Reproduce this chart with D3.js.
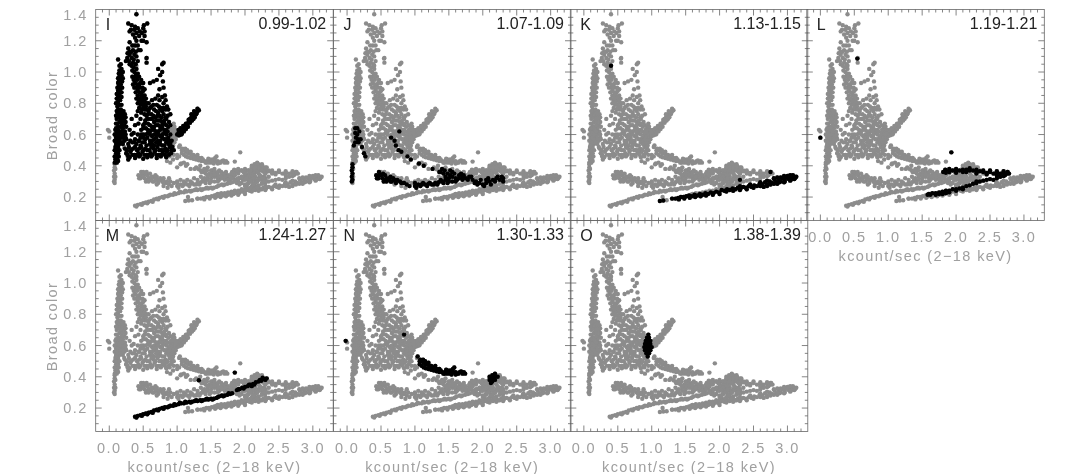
<!DOCTYPE html>
<html>
<head>
<meta charset="utf-8">
<script src="https://cdn.jsdelivr.net/npm/d3@7"></script>
<style>
  html, body { margin: 0; padding: 0; background: #fff; }
  svg { display: block; filter: blur(0.35px); }
  .axis-text { font-family: "Liberation Sans", sans-serif; font-size: 14.5px; fill: #a0a0a0; letter-spacing: 1.4px; }
  .panel-text { font-family: "Liberation Sans", sans-serif; fill: #222; }
</style>
</head>
<body>
<script>
// values: [kcount/sec, broad color], one list per time range
const ptsI = [[.08,.42],[.11,.42],[.09,.44],[.12,.44],[.08,.46],[.11,.46],[.1,.48],[.13,.48],[.08,.5],[.11,.5],[.09,.52],[.13,.52],[.1,.54],[.08,.56],[.12,.56],[.1,.58],[.14,.58],[.09,.6],[.12,.6],[.11,.62],[.15,.62],[.1,.64],[.13,.65],[.12,.67],[.15,.68],[.11,.7],[.14,.71],[.12,.73],[.15,.74],[.13,.76],[.12,.78],[.15,.79],[.13,.81],[.16,.82],[.13,.84],[.15,.86],[.13,.88],[.16,.89],[.14,.91],[.17,.92],[.14,.94],[.17,.95],[.15,.97],[.18,.98],[.16,1],[.15,1.04],[.13,1.08],[.245,1.07],[.29,1.07],
  [.13,.43],[.14,.46],[.15,.5],[.15,.54],[.15,.56],[.17,.58],[.08,.6],[.15,.6],[.17,.6],[.09,.63],[.13,.63],[.17,.65],[.1,.67],[.17,.7],[.1,.72],[.17,.72],[.11,.75],[.17,.76],[.1,.8],[.18,.79],[.11,.83],[.18,.84],[.11,.86],[.18,.87],[.12,.9],[.19,.9],[.13,.93],[.19,.94],[.13,.96],[.2,.96],[.14,.99],[.2,1],[.15,1.01],[.18,1.02],[.17,1.05],
  [.2,.54],[.22,.56],[.19,.58],[.21,.6],[.23,.62],[.2,.64],[.22,.66],[.19,.68],[.22,.7],[.2,.72],[.23,.73],
  [.18,.55],[.24,.58],[.24,.6],[.18,.62],[.25,.65],[.18,.66],[.24,.68],[.17,.7],[.24,.71],[.21,.75],[.19,.74],
  [.28,1.31],[.33,1.3],[.38,1.29],[.3,1.26],[.35,1.24],[.4,1.25],[.45,1.26],[.5,1.28],[.56,1.31],[.51,1.3],[.4,1.37],[.52,1.23],[.475,1.2],[.55,1.19],[.4,1.2],[.3,1.19],[.38,1.17],[.28,1.15],[.35,1.14],[.43,1.14],[.3,1.11],[.4,1.1],[.55,1.09],[.265,1.09],[.33,1.09],[.35,1.06],[.55,1.06],[.33,1.13],[.37,1.11],
  [.32,1.27],[.37,1.27],[.42,1.28],[.44,1.23],[.38,1.22],[.48,1.25],[.52,1.26],[.34,1.17],[.42,1.17],[.3,1.13],[.39,1.13],[.27,1.12],[.36,1.08],[.42,1.07],[.3,1.05],[.33,1.04],[.39,1.05],[.46,1.14],[.5,1.2],
  [.36,1.03],[.4,1.02],[.37,1],[.42,.99],[.38,.97],[.44,.97],[.36,.95],[.41,.95],[.47,.95],[.38,.93],[.44,.92],[.5,.93],[.4,.9],[.46,.9],[.42,.88],[.48,.87],[.52,.89],[.42,.85],[.47,.85],[.52,.85],[.44,.82],[.49,.82],[.54,.83],[.46,.79],[.5,.79],[.48,.76],[.52,.76],[.55,.8],
  [.34,1.01],[.39,.99],[.34,.97],[.41,.97],[.46,.93],[.35,.92],[.41,.92],[.37,.9],[.43,.9],[.49,.9],[.39,.87],[.45,.87],[.5,.88],[.4,.83],[.45,.83],[.5,.84],[.42,.8],[.47,.81],[.52,.81],[.44,.77],[.5,.77],[.54,.78],[.47,.74],[.52,.73],
  [.6,.93],[.65,.94],[.7,.95],[.75,.98],[.78,1],[.72,1.02],[.78,1.05],[.8,1.06],[.8,.9],[.74,.89],[.82,.85],[.79,.94],
  [.62,.78],[.7,.79],[.76,.77],[.58,.75],[.66,.76],[.72,.74],[.78,.75],[.55,.72],[.62,.73],[.68,.71],[.74,.72],[.8,.73],[.53,.69],[.6,.7],[.66,.68],[.72,.69],[.78,.68],[.84,.7],[.5,.66],[.57,.67],[.63,.65],[.69,.66],[.75,.65],[.81,.67],[.47,.63],[.54,.64],[.6,.62],[.66,.63],[.72,.62],[.78,.64],[.84,.63],[.5,.6],[.57,.61],[.63,.59],[.69,.6],[.75,.59],[.81,.61],[.38,.57],[.46,.58],[.53,.57],[.6,.56],[.66,.57],[.72,.56],[.78,.58],[.84,.57],
  [.65,.79],[.73,.78],[.6,.77],[.69,.75],[.75,.76],[.57,.73],[.65,.72],[.71,.72],[.77,.71],[.83,.71],[.56,.7],[.63,.7],[.69,.69],[.75,.69],[.81,.69],[.52,.67],[.6,.66],[.66,.65],[.72,.66],[.78,.66],[.84,.66],[.5,.64],[.57,.63],[.63,.63],[.69,.62],[.75,.63],[.81,.63],[.87,.65],[.47,.6],[.54,.6],[.6,.6],[.66,.6],[.72,.6],[.78,.6],[.84,.6],[.44,.56],[.5,.58],[.56,.58],[.63,.56],[.69,.58],[.75,.56],[.81,.57],[.87,.58],
  [.28,.54],[.34,.55],[.4,.54],[.46,.53],[.52,.55],[.6,.54],[.66,.53],[.72,.54],[.78,.53],[.84,.55],[.9,.54],[.23,.51],[.29,.52],[.35,.51],[.41,.5],[.47,.52],[.53,.51],[.59,.5],[.65,.51],[.71,.52],[.77,.5],[.83,.51],[.89,.52],[.95,.5],[.25,.48],[.31,.49],[.37,.47],[.43,.48],[.49,.49],[.55,.47],[.61,.48],[.67,.49],[.73,.47],[.79,.48],[.85,.49],[.91,.48],[.3,.455],[.38,.45],[.44,.46],[.5,.445],[.56,.455],[.62,.46],[.7,.45],[.76,.46],[.84,.455],
  [.31,.56],[.37,.55],[.43,.56],[.49,.55],[.55,.53],[.63,.54],[.69,.55],[.75,.54],[.81,.53],[.87,.54],[.93,.52],[.26,.5],[.32,.5],[.38,.52],[.44,.51],[.5,.5],[.56,.5],[.62,.52],[.68,.5],[.74,.5],[.8,.5],[.86,.5],[.92,.5],[.28,.46],[.34,.47],[.4,.47],[.46,.47],[.52,.47],[.58,.47],[.64,.47],[.7,.47],[.76,.47],[.82,.47],[.88,.47],
  [.28,.44],[.27,.47],[.85,.78],[.9,.73],[.3,.63],[.33,.7],[.38,.66],[.42,.75],[.25,.57],[.63,.82],[.68,.83],[.74,.82],[.8,.8],[.58,.8],
  [.83,.76],[.86,.72],[.88,.68],[.86,.62],[.9,.6],[.88,.56],[.55,.76],[.8,.77],[.83,.82],[.78,.84],[.72,.85],[.87,.76],[.9,.66],[.92,.56],[.42,.6],[.43,.67],[.46,.7],[.36,.61],[.4,.72],[.33,.6],
  [1,.6],[1.02,.61],[1.05,.62],[1.08,.63],[1.1,.64],[1.12,.65],[1.15,.67],[1.17,.68],[1.19,.7],[1.21,.71],[1.23,.72],[1.25,.73],[1.27,.74],[1.3,.75],[1.32,.755],[1.14,.65],[1.2,.69],[1.24,.7],[1.28,.73],[1.06,.6],
  [1.03,.595],[1.07,.605],[1.1,.62],[1.13,.635],[1.16,.65],[1.19,.675],[1.22,.69],[1.26,.71],[1.29,.74],[1.02,.63],[1.05,.64],[1.09,.655],[1.13,.67],[1.17,.695],[1.21,.73],[1.25,.75],[1.3,.765]];
const ptsJ = [[.07,.3],[.08,.31],[.07,.33],[.08,.35],[.07,.37],[.08,.39],[.08,.41],[.12,.64],[.15,.64],[.12,.61],[.15,.6],[.18,.62],[.13,.58],[.16,.57],[.2,.57],[.12,.55],[.17,.55],[.22,.52],[.1,.53],[.25,.48],[.27,.46],
  [.77,.62],[.65,.58],[.7,.56],[.72,.53],[.76,.5],[.8,.49],[.89,.46],[.94,.44],[1.06,.415],[1.13,.4],[1.26,.38],[1.38,.36],
  [1.36,.36],[1.4,.38],[1.44,.37],[1.48,.35],[1.52,.37],[1.55,.36],[1.42,.35],
  [.43,.34],[.47,.36],[.5,.34],[.46,.32],[.52,.32],[.56,.34],[.58,.32],[.54,.3],[.6,.31],[.64,.33],[.66,.3],[.7,.31],[.72,.29],[.78,.3],[.84,.29],[.88,.28],[.92,.27],
  [.44,.32],[.48,.34],[.53,.35],[.55,.31],[.62,.32],[.58,.3],[.64,.3],[.68,.32],[.74,.31],[.8,.29],
  [1,.27],[1,.29],[1.05,.28],[1.1,.28],[1.15,.28],[1.2,.285],[1.25,.28],[1.3,.29],[1.35,.295],[1.4,.3],[1.45,.31],[1.5,.32],[1.5,.3],[1.55,.33],[1.6,.32],[1.6,.3],[1.65,.34],[1.7,.33],[1.7,.31],[1.75,.32],[1.8,.33],[1.85,.31],[1.9,.3],[1.95,.29],[2,.28],[2.05,.29],[2.05,.31],[2.1,.3],[2.15,.31],[2.2,.32],[2.25,.31],[2.3,.32],[2.3,.3],
  [1.02,.26],[1.08,.27],[1.12,.29],[1.18,.27],[1.22,.29],[1.28,.28],[1.33,.28],[1.38,.31],[1.42,.29],[1.45,.33],[1.48,.29],[1.52,.34],[1.55,.3],[1.58,.35],[1.62,.31],[1.65,.32],[1.68,.35],[1.72,.34],[1.78,.31],[1.83,.33],[1.88,.29],[1.92,.28],[1.97,.31],[2.02,.27],[2.08,.32],[2.12,.28],[2.18,.3],[2.22,.33],[2.28,.33]];
const ptsK = [[1.12,.175],[1.17,.178],[1.3,.19],[1.35,.19],[1.39,.195],[1.43,.2],[1.47,.2],[1.51,.205],[1.55,.21],[1.59,.205],[1.63,.215],[1.67,.21],[1.71,.22],[1.75,.215],[1.79,.225],[1.83,.22],[1.87,.23],[1.91,.225],[1.95,.235],[1.99,.23],[2.03,.245],[2.07,.24],[2.11,.25],[2.15,.245],[2.19,.255],[2.23,.25],[2.27,.26],[2.31,.255],[2.35,.265],[2.39,.26],[2.43,.27],[2.47,.265],[2.51,.275],[2.55,.27],[2.59,.285],[2.63,.28],[2.67,.295],[2.7,.28],[2.74,.3],[2.77,.29],[2.81,.31],[2.84,.295],[2.87,.315],[2.9,.3],[2.93,.32],[2.96,.31],[2.99,.325],[3.02,.315],[3.05,.33],[3.08,.32],[3.1,.33],[3.11,.32],
  [1.4,.185],[1.48,.19],[1.56,.195],[1.64,.2],[1.72,.205],[1.8,.21],[1.9,.215],[2,.22],[2.1,.235],[2.2,.24],[2.3,.245],[2.4,.25],[2.5,.26],[2.6,.27],[2.7,.27],[2.8,.285],[2.88,.295],[2.96,.3],[3.04,.305],[3.1,.315],[2.7,.305],[2.8,.32],[2.9,.325],[3,.335],[3.08,.34],[2.6,.295],[3.13,.33],
  [2.65,.265],[2.75,.28],[2.85,.285],[2.95,.295],[3.05,.31],[2.85,.325],[2.95,.335],[3.04,.34],[2.45,.28],[2.3,.27],
  [.4,1.04],[2.3,.31],[2.75,.36]];
const ptsL = [[1.81,.36],[1.85,.37],[1.9,.36],[1.95,.37],[2,.365],[2.05,.37],[2.1,.36],[2.15,.375],[2.2,.37],[2.25,.37],[2.3,.36],[2.35,.365],[2.4,.36],[2.45,.355],[2.5,.36],[2.55,.35],[2.6,.355],[2.65,.35],[2.7,.355],[2.75,.35],[2.78,.35],[1.85,.355],[2,.355],[2.15,.36],[2.3,.35],[2.45,.345],[2.6,.34],[2.72,.34],
  [1.84,.375],[1.9,.38],[2,.38],[2.1,.375],[2.2,.385],[2.3,.375],[2.4,.37],[2.5,.37],[2.6,.365],[2.7,.365],[2.76,.36],
  [2.7,.335],[2.6,.32],[2.5,.315],[2.45,.31],[2.35,.3],[2.3,.29],[2.25,.285],[2.15,.27],[2.1,.26],[2.05,.255],[1.95,.25],[1.9,.24],[1.85,.24],[1.8,.235],[1.75,.23],[1.7,.225],[1.65,.225],[1.6,.22],[1.58,.215],[2,.24],[1.9,.23],[1.8,.22],[1.7,.215],
  [2.65,.33],[2.55,.31],[2.4,.305],[2.2,.275],[2,.25],[1.85,.225],[1.75,.22],[1.62,.215],[2.1,.25],[2.3,.3],
  [.545,1.086],[0,.58],[1.93,.486]];
const ptsM = [[.38,.145],[.42,.15],[.46,.155],[.5,.16],[.54,.165],[.58,.17],[.62,.175],[.66,.185],[.7,.19],[.74,.195],[.78,.2],[.82,.205],[.86,.205],[.9,.215],[.94,.215],[.98,.22],[1.02,.225],[1.06,.23],[1.1,.23],[1.14,.235],[1.18,.24],[1.22,.24],[1.26,.245],[1.3,.245],[1.34,.25],[1.38,.25],[1.42,.255],[1.46,.255],[1.5,.26],[1.54,.26],[1.58,.265],[1.62,.275],[1.66,.28],[1.7,.28],[1.74,.285],[1.78,.29],[1.81,.295],[1.88,.315],[1.92,.32],[1.96,.33],[2,.335],[2.04,.34],[2.08,.35],[2.12,.355],[2.16,.365],[2.2,.37],[2.24,.375],[2.28,.385],[2.32,.39],
  [.4,.14],[.48,.15],[.56,.16],[.64,.17],[.72,.185],[.8,.195],[.88,.21],[.96,.225],[1.04,.235],[1.12,.24],[1.2,.235],[1.28,.25],[1.36,.245],[1.44,.26],[1.52,.255],[1.6,.27],[1.68,.275],[1.76,.295],[1.9,.32],[1.98,.325],[2.06,.35],[2.14,.35],[2.22,.38],[2.3,.38],[2.26,.395],[2.1,.34],
  [1.85,.427],[1.32,.378]];
const ptsN = [[1.04,.53],[1.07,.5],[1.07,.48],[1.1,.5],[1.1,.47],[1.13,.49],[1.13,.46],[1.16,.48],[1.16,.455],[1.2,.475],[1.2,.45],[1.24,.47],[1.24,.445],[1.28,.46],[1.28,.44],[1.32,.45],[1.32,.435],[1.36,.45],[1.36,.43],[1.4,.43],[1.44,.43],[1.44,.42],[1.48,.44],[1.48,.42],[1.52,.44],[1.52,.42],[1.56,.45],[1.56,.43],[1.6,.43],[1.62,.42],[1.66,.43],[1.7,.42],[1.74,.42],[1.58,.46],
  [1.08,.51],[1.12,.51],[1.15,.5],[1.2,.49],[1.22,.46],[1.26,.45],[1.3,.47],[1.34,.44],[1.38,.44],[1.42,.42],[1.46,.445],[1.5,.43],[1.54,.415],[1.64,.42],[1.68,.435],[1.72,.43],[1.6,.415],
  [2.1,.38],[2.14,.37],[2.18,.38],[2.1,.4],[2.14,.39],[2.18,.4],[2.22,.4],[2.14,.41],[2.18,.42],[2.12,.36],
  [-.02,.63],[.84,.67]];
const ptsO = [[.94,.53],[.92,.55],[.96,.55],[.9,.57],[.94,.57],[.98,.57],[.89,.59],[.93,.59],[.97,.59],[1,.59],[.9,.61],[.94,.61],[.98,.61],[.91,.63],[.95,.63],[.98,.63],[.93,.65],[.96,.65],[.95,.67]];
// points outside the seven ranges, only ever seen in gray
const ptsOther = [[1.2,.38],[1.28,.39],[1.34,.4],[1.4,.37],[1.45,.39],[1.5,.37],[1.5,.35],[1.55,.38],[1.6,.36],[1.6,.34],[1.65,.36],[1.7,.35],[1.75,.34],[1.8,.35],[1.8,.32],[1.85,.3],[1.75,.31],
  [2.2,.41],[2.25,.41],[2.1,.39],[2.2,.39],[2.3,.39],[1.95,.37],[2.05,.37],[2.15,.37],[2.25,.37],[2.35,.37],[1.9,.35],[2,.35],[2.1,.35],[2.2,.35],[2.3,.35],[2.4,.35],[1.95,.33],[2.05,.33],[2.15,.33],[2.25,.33],[2.35,.33],[2,.31],[2.1,.31],[2.2,.31],[2.3,.31],[2.05,.29],[2.15,.29],[2.25,.29],[2,.27],[2.1,.27],[2.2,.27],[2.05,.25],[2.15,.25],[2.25,.25],
  [1.98,.36],[2.08,.37],[2.18,.36],[2.28,.36],[2.12,.34],[2.22,.34],[2.02,.32],[2.12,.32],[2.27,.32],[2.08,.3],[2.18,.3],[2.28,.3],[2.03,.28],[2.13,.28],[2.08,.26],[2.18,.26],[2.25,.4],[2.18,.415],[2.15,.39],[1.88,.37],[1.85,.34],
  [1,.3],[1.1,.3],[1.2,.3],[1.3,.31],[1.4,.32],[1.5,.34],[1.7,.33],[.5,.36],[.6,.35],[.7,.33],[.8,.32],[.85,.3],[.9,.3],[.95,.29],
  [.5,.33],[.55,.36],[.62,.33],[.68,.34],[.75,.32],[.8,.3],[.88,.32],[.7,.28],[.8,.27],[.86,.26],[1.05,.31],[1.15,.31],[1.25,.32],[1.35,.33],[1.45,.34],[1.55,.345],[1.65,.33],[1.72,.36],[1.62,.37],
  [.9,.42],[1,.45],[.95,.47],[.85,.43],[1.1,.42],[1.05,.41],[1,.39],[1.15,.41],[1.35,.37],[1,.47],[.92,.49],[1.03,.46],[1.03,.52],[1.3,.19],[1.22,.18],[1.16,.2],
  [0,.62],[.08,.29],[.09,.33],[.09,.38]];

const panelLetters = ['I', 'J', 'K', 'L', 'M', 'N', 'O'];
const panelRanges = ['0.99-1.02', '1.07-1.09', '1.13-1.15', '1.19-1.21', '1.24-1.27', '1.30-1.33', '1.38-1.39'];
const panelPoints = [ptsI, ptsJ, ptsK, ptsL, ptsM, ptsN, ptsO];
const xTicks = [0, .5, 1, 1.5, 2, 2.5, 3];
const yTicks = [.2, .4, .6, .8, 1, 1.2, 1.4];
const xMinor = d3.range(-.1, 3.3, .1);
const yMinor = d3.range(.1, 1.4, .05);
const allPoints = panelPoints.concat([ptsOther]).flat();

const dims = { width: 1066, height: 474, panelW: 237.5, panelH: 211, left: [95.7, 333.5, 570.3, 806.8], top: [9.5, 220.5] };

const svg = d3.select('body').append('svg').attr('width', dims.width).attr('height', dims.height);

panelLetters.forEach((letter, i) => {
  let col = i < 4 ? i : i - 4;
  let row = i < 4 ? 0 : 1;
  let x = d3.scaleLinear().domain([-.2, 3.3]).range([0, dims.panelW]);
  let y = d3.scaleLinear().domain([.05, 1.4]).range([dims.panelH, 0]);
  let g = svg.append('g').attr('transform', `translate(${dims.left[col]},${dims.top[row]})`);

  // ticks on all four sides, pointing in
  let frame = g.append('g').attr('stroke', '#666').attr('stroke-width', .8).attr('fill', 'none');
  frame.append('rect').attr('width', dims.panelW).attr('height', dims.panelH);
  xMinor.forEach(d => {
    let len = xTicks.some(t => Math.abs(t - d) < .01) ? 6 : 3;
    frame.append('line').attr('x1', x(d)).attr('x2', x(d)).attr('y1', dims.panelH).attr('y2', dims.panelH - len);
    frame.append('line').attr('x1', x(d)).attr('x2', x(d)).attr('y1', 0).attr('y2', len);
  });
  yMinor.forEach(d => {
    let len = yTicks.some(t => Math.abs(t - d) < .01) ? 6 : 3;
    frame.append('line').attr('y1', y(d)).attr('y2', y(d)).attr('x1', 0).attr('x2', len);
    frame.append('line').attr('y1', y(d)).attr('y2', y(d)).attr('x1', dims.panelW).attr('x2', dims.panelW - len);
  });

  g.append('g').selectAll('circle').data(allPoints).join('circle')
    .attr('cx', d => x(d[0])).attr('cy', d => y(d[1])).attr('r', 2.2).attr('fill', '#8c8c8c');
  g.append('g').selectAll('circle').data(panelPoints[i]).join('circle')
    .attr('cx', d => x(d[0])).attr('cy', d => y(d[1])).attr('r', 2.2).attr('fill', '#000');

  g.append('text').attr('class', 'panel-text').attr('x', 10).attr('y', 20).attr('font-size', 16).text(letter);
  g.append('text').attr('class', 'panel-text').attr('x', dims.panelW - 7).attr('y', 19)
    .attr('text-anchor', 'end').attr('font-size', 16).text(panelRanges[i]);

  // only the outer panels carry labels
  if (col === 0) {
    g.selectAll('.ylab').data(yTicks).join('text')
      .attr('class', 'ylab axis-text')
      .attr('x', -8).attr('y', d => y(d) + (d === 1.4 ? 10 : 5))
      .attr('text-anchor', 'end').text(d => d.toFixed(1));
    g.append('text').attr('class', 'axis-text')
      .attr('transform', `translate(-39,106) rotate(-90)`)
      .attr('text-anchor', 'middle').text('Broad color');
  }
  if (row === 1 || col === 3) {
    g.selectAll('.xlab').data(xTicks).join('text')
      .attr('class', 'xlab axis-text')
      .attr('x', d => x(d)).attr('y', dims.panelH + 21)
      .attr('text-anchor', 'middle').text(d => d.toFixed(1));
    g.append('text').attr('class', 'axis-text')
      .attr('x', dims.panelW / 2).attr('y', dims.panelH + 40)
      .attr('text-anchor', 'middle').text('kcount/sec (2\u221218 keV)');
  }
});
</script>
</body>
</html>
